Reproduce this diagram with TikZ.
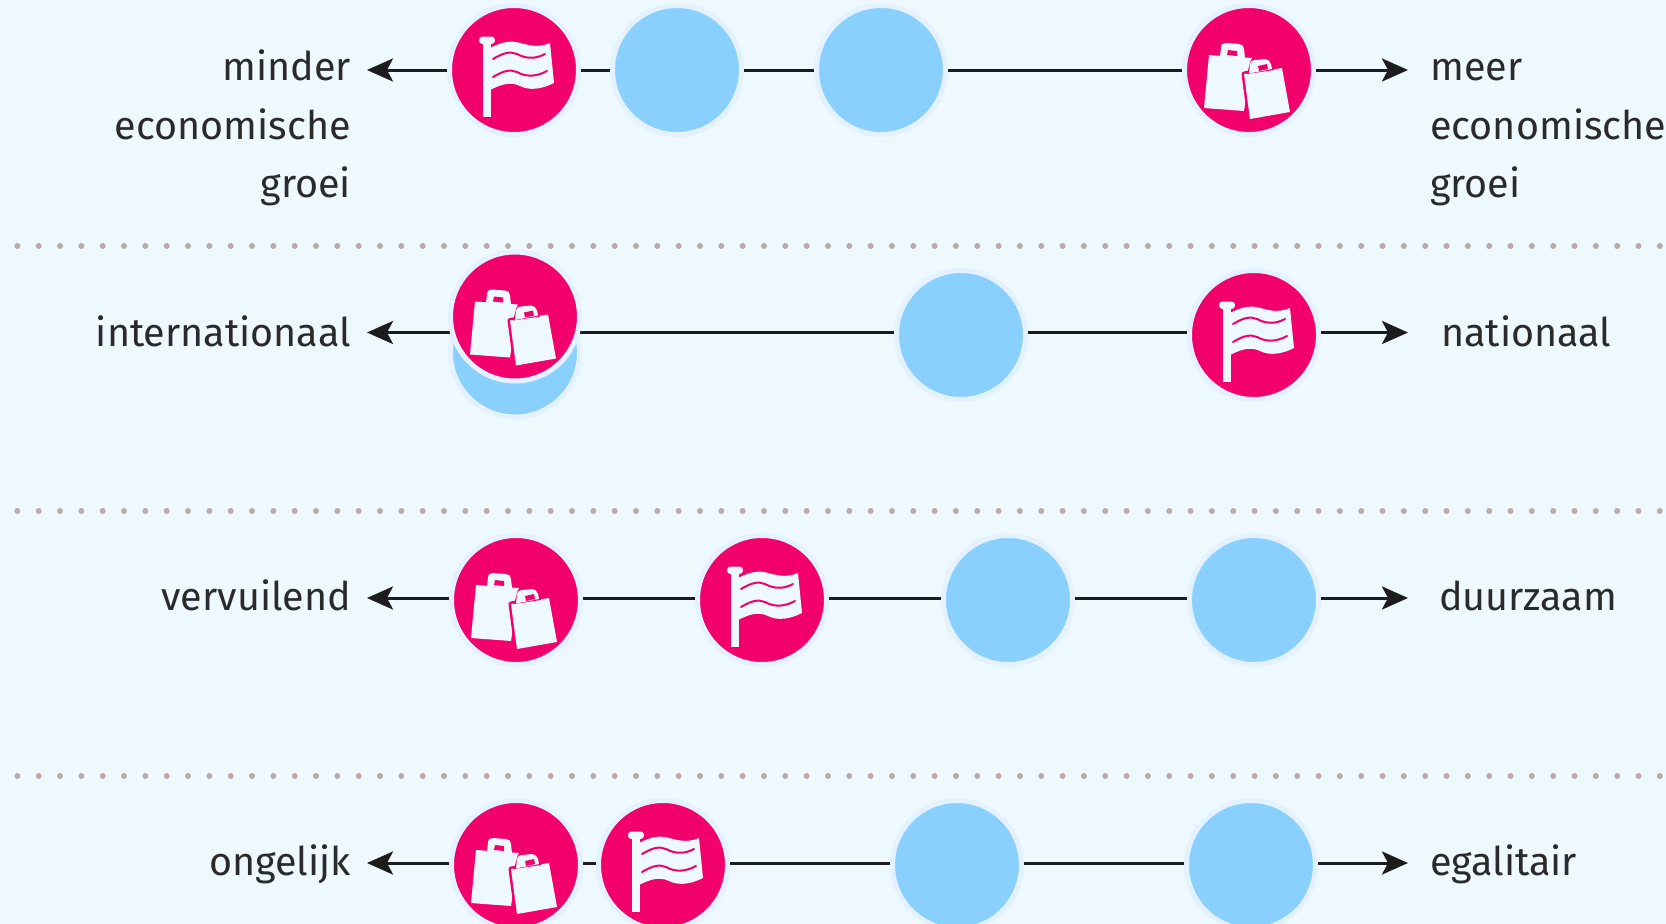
\documentclass[tikz,border=0pt]{standalone}
\usepackage{fontspec}
\setmainfont{Fira Sans}
\usetikzlibrary{arrows.meta}
\definecolor{bgc}{HTML}{EDF8FF}
\definecolor{pinkc}{HTML}{F2006B}
\definecolor{bluec}{HTML}{8AD0FF}
\definecolor{haloc}{HTML}{E4F1FF}
\definecolor{inkc}{HTML}{2A2A2A}
\definecolor{linec}{HTML}{1C1C1C}
\definecolor{dotc}{HTML}{B9ACA6}
\tikzset{
  x=1pt,y=-1pt,
  disc/.style={circle,draw=haloc,line width=5pt,minimum size=129pt,inner sep=0pt,outer sep=2.5pt},
  pinkdisc/.style={disc,fill=pinkc},
  bluedisc/.style={disc,fill=bluec},
  link/.style={draw=linec,line width=3pt},
  tiplink/.style={link,-{Stealth[length=26pt,width=23pt,inset=6pt]}},
  sep/.style={draw=dotc,line width=6pt,line cap=round,dash pattern=on 0pt off 21.33pt},
  lab/.style={text=inkc,font=\fontsize{39.5}{39.5}\selectfont,inner sep=0pt},
  labl/.style={lab,anchor=base east,align=right},
  labr/.style={lab,anchor=base west,align=left},
  flagicon/.pic={
    \fill[bgc] (-31.3,-27) rectangle (-23,47.3);
    \fill[bgc,rounded corners=3.4pt] (-35,-33.5) rectangle (-19,-26);
    \fill[bgc] (-24,-22) .. controls (-12,-28) and (-6,-29) .. (2,-28)
       .. controls (12,-26) and (22,-21) .. (36,-27)
       -- (40,13) .. controls (28,19) and (16,21) .. (6,16)
       .. controls (-4,11) and (-14,15) .. (-24,20) -- cycle;
    \draw[pinkc,line width=2pt,line cap=round] (-21,-11) .. controls (-11,-17) and (-4,-19) .. (3,-16)
       .. controls (12,-11) and (22,-11) .. (31,-16);
    \draw[pinkc,line width=2pt,line cap=round] (-21,7) .. controls (-11,1) and (-4,-1) .. (3,2)
       .. controls (12,7) and (22,7) .. (33,1);
  },
  bagicon/.pic={
    \fill[bgc] (-40,-15) -- (3,-12) -- (-5,41) -- (-45,38) -- cycle;
    \fill[bgc] (-29,-14) -- (-28,-22) .. controls (-28,-26) and (-26,-27) .. (-23,-27)
       -- (-10,-26) .. controls (-7,-26) and (-5,-24) .. (-5,-21) -- (-4,-12) -- cycle;
    \fill[pinkc] (-21,-20) -- (-12,-19) -- (-12,-14) -- (-22,-15) -- cycle;
    \draw[pinkc,line width=5pt,line join=round] (-5,4) -- (33,-2) -- (41,42) -- (1,49) -- cycle;
    \fill[bgc] (-5,4) -- (33,-2) -- (41,42) -- (1,49) -- cycle;
    \fill[pinkc] (-2,4) -- (1,-7) .. controls (2,-11) and (3,-12) .. (6,-12.5) -- (16,-13) .. controls (20,-13) and (23,-10) .. (24,-6) -- (25,0) -- cycle;
    \fill[bgc] (0,3.5) -- (1,-6) .. controls (2,-9) and (3,-10) .. (6,-10) -- (16,-11) .. controls (19,-11) and (21,-9) .. (22,-6) -- (23,-1) -- cycle;
    \fill[pinkc] (9,-4) -- (18,-6) -- (19,-1) -- (10,1) -- cycle;
  }
}
\begin{document}
\begin{tikzpicture}
\useasboundingbox[fill=bgc] (0,0) rectangle (1666,924);
\clip (0,0) rectangle (1666,924);

\coordinate (s1a) at (17.4,246); \coordinate (s1b) at (1666,246);
\coordinate (s2a) at (17.4,511); \coordinate (s2b) at (1666,511);
\coordinate (s3a) at (17.4,776); \coordinate (s3b) at (1666,776);
\draw[sep] (s1a) -- (s1b);
\draw[sep] (s2a) -- (s2b);
\draw[sep] (s3a) -- (s3b);

% row 1
\node[pinkdisc] (a1) at (514,70) {};
\node[bluedisc] (a2) at (677,70) {};
\node[bluedisc] (a3) at (881,70) {};
\node[pinkdisc] (a4) at (1249,70) {};
\pic at (a1) {flagicon};
\pic at (a4) {bagicon};
\coordinate (al) at (367,70); \coordinate (ar) at (1408,70);
\draw[tiplink] (a1) -- (al);
\draw[link] (a1) -- (a2);
\draw[link] (a2) -- (a3);
\draw[link] (a3) -- (a4);
\draw[tiplink] (a4) -- (ar);
\node[labl] (t1a) at (351,80) {minder};
\node[labl] (t1b) at (351,139) {economische};
\node[labl] (t1c) at (351,197) {groei};
\node[labr] (t1d) at (1430,80) {meer};
\node[labr] (t1e) at (1430,139) {economische};
\node[labr] (t1f) at (1430,197) {groei};

% row 2
\coordinate (bc) at (515,332.5);
\node[bluedisc] (b3) at (961,335) {};
\node[pinkdisc] (b4) at (1254,335) {};
\pic at (b4) {flagicon};
\coordinate (bl) at (367,332.5); \coordinate (br) at (1408,332.5);
\draw[tiplink] (bc) -- (bl);
\draw[link] (bc) -- (b3.west |- bc);
\draw[link] (b3.east |- bc) -- (b4.west |- bc);
\draw[tiplink] (b4.east |- bc) -- (br);
\node[bluedisc] (b2) at (515,352.5) {};
\node[pinkdisc] (b1) at (515,316.5) {};
\pic at (b1) {bagicon};
\node[labl] (t2a) at (351,346) {internationaal};
\node[labr] (t2b) at (1441,346) {nationaal};

% row 3
\coordinate (cy) at (516,598);
\node[pinkdisc] (c1) at (516,600) {};
\node[pinkdisc] (c2) at (762,600) {};
\node[bluedisc] (c3) at (1008,600) {};
\node[bluedisc] (c4) at (1254,600) {};
\pic at (c1) {bagicon};
\pic at (c2) {flagicon};
\coordinate (cl) at (367,598); \coordinate (cr) at (1408,598);
\draw[tiplink] (c1.west |- cy) -- (cl);
\draw[link] (c1.east |- cy) -- (c2.west |- cy);
\draw[link] (c2.east |- cy) -- (c3.west |- cy);
\draw[link] (c3.east |- cy) -- (c4.west |- cy);
\draw[tiplink] (c4.east |- cy) -- (cr);
\node[labl] (t3a) at (351,610) {vervuilend};
\node[labr] (t3b) at (1439,610) {duurzaam};

% row 4
\coordinate (dy) at (516,863);
\node[pinkdisc] (d1) at (516,865) {};
\node[pinkdisc] (d2) at (663,865) {};
\node[bluedisc] (d3) at (957,865) {};
\node[bluedisc] (d4) at (1251,865) {};
\pic at (d1) {bagicon};
\pic at (d2) {flagicon};
\coordinate (dl) at (367,863); \coordinate (dr) at (1408,863);
\draw[tiplink] (d1.west |- dy) -- (dl);
\draw[link] (d1.east |- dy) -- (d2.west |- dy);
\draw[link] (d2.east |- dy) -- (d3.west |- dy);
\draw[link] (d3.east |- dy) -- (d4.west |- dy);
\draw[tiplink] (d4.east |- dy) -- (dr);
\node[labl] (t4a) at (351,875) {ongelijk};
\node[labr] (t4b) at (1430,875) {egalitair};
\end{tikzpicture}
\end{document}
